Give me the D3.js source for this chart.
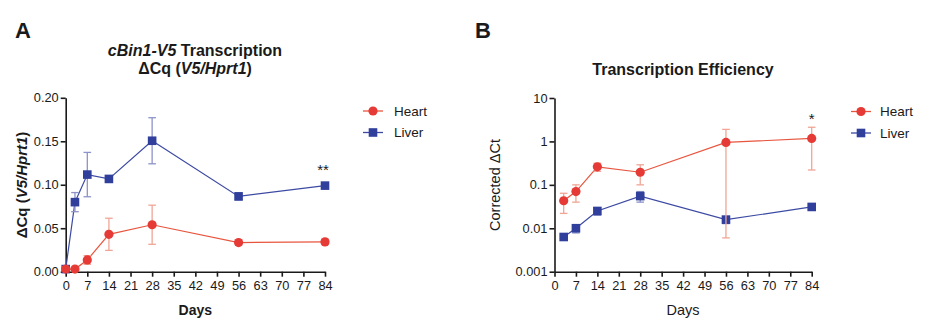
<!DOCTYPE html>
<html>
<head>
<meta charset="utf-8">
<script src="https://cdn.jsdelivr.net/npm/d3@7"></script>
<style>
    body { margin: 0; background: #fff; }
    text { font-family: "Liberation Sans", Arial, sans-serif; fill: #1a1a1a; }
</style>
</head>
<body>
<div id="canvas"></div>
<script>
"use strict";

let svgWidth = 929;
let svgHeight = 329;

/* ---------------- DATA ---------------- */
let daysA = [0, 3, 7, 14, 28, 56, 84];
let heartA = [0.003, 0.003, 0.0135, 0.043, 0.054, 0.0335, 0.0343];
let heartAErr = [0.001, 0.001, 0.005, 0.0185, 0.0225, 0.003, 0.003];
let liverA = [0.003, 0.080, 0.1117, 0.1067, 0.1506, 0.0866, 0.099];
let liverAErr = [0.001, 0.011, 0.0255, 0.003, 0.0265, 0.004, 0.002];

let daysB = [3, 7, 14, 28, 56, 84];
let heartB = [0.043, 0.070, 0.26, 0.195, 0.95, 1.17];
let heartBErr = [0.021, 0.03, 0.055, 0.095, 0.944, 0.95];
let liverB = [0.0063, 0.010, 0.025, 0.055, 0.0158, 0.031];
let liverBErr = [0.0004, 0.0022, 0.005, 0.015, 0.003, 0.002];

let dayTicks = [0, 7, 14, 21, 28, 35, 42, 49, 56, 63, 70, 77, 84];
let yTicksA = [0, 0.05, 0.10, 0.15, 0.20];
let yTicksB = [0.001, 0.01, 0.1, 1, 10];

let seriesNames = ["Heart", "Liver"];

/* ---------------- COLOURS ---------------- */
let heartColor = "#e53a35";
let heartLine = "#e8553f";
let heartErrColor = "#f0a596";
let liverColor = "#303f9c";
let liverLine = "#3c4aa3";
let liverErrColor = "#8d93c8";

let svg = d3.select("#canvas")
    .append("svg")
    .attr("width", svgWidth)
    .attr("height", svgHeight);

/* ---------------- SCALES ---------------- */
let xA = d3.scaleLinear().domain([0, 84]).range([65.7, 325]);
let yA = d3.scaleLinear().domain([0, 0.2]).range([271.7, 97.8]);

let xB = d3.scaleLinear().domain([0, 84]).range([554.5, 811.7]);
let yB = d3.scaleLog().domain([0.001, 10]).range([271.7, 98]);

/* ---------------- AXES ---------------- */
function drawAxes(x, y, yTickValues, yFormat) {
    let gx = svg.append("g")
        .attr("transform", "translate(0," + y.range()[0] + ")")
        .call(d3.axisBottom(x).tickValues(dayTicks).tickSize(5).tickSizeOuter(0).tickPadding(4));

    let gy = svg.append("g")
        .attr("transform", "translate(" + x.range()[0] + ",0)")
        .call(d3.axisLeft(y).tickValues(yTickValues).tickFormat(yFormat).tickSize(5).tickSizeOuter(0).tickPadding(2));

    [gx, gy].forEach(function (g) {
        g.select(".domain").attr("stroke", "#1a1a1a").attr("stroke-width", 1.6);
        g.selectAll(".tick line").attr("stroke", "#1a1a1a").attr("stroke-width", 1.6);
        g.selectAll(".tick text")
            .attr("font-size", "12.8px")
            .attr("font-family", "Liberation Sans, Arial, sans-serif")
            .attr("fill", "#1a1a1a");
    });
}

drawAxes(xA, yA, yTicksA, d3.format(".2f"));
drawAxes(xB, yB, yTicksB, d => String(d));

/* ---------------- SERIES ---------------- */
function drawSeries(x, y, days, values, errs, lineColor, errColor, markColor, shape) {
    let g = svg.append("g");

    let line = d3.line()
        .x((d, i) => x(days[i]))
        .y(d => y(d));

    g.append("path")
        .datum(values)
        .attr("d", line)
        .attr("fill", "none")
        .attr("stroke", lineColor)
        .attr("stroke-width", 1.2);

    let capW = 3.8;
    values.forEach(function (v, i) {
        let cx = x(days[i]);
        let top = y(v + errs[i]);
        let bot = y(Math.max(v - errs[i], y.domain()[0]));
        g.append("line")
            .attr("x1", cx).attr("x2", cx)
            .attr("y1", top).attr("y2", bot)
            .attr("stroke", errColor).attr("stroke-width", 1.3);
        [top, bot].forEach(function (yy) {
            g.append("line")
                .attr("x1", cx - capW).attr("x2", cx + capW)
                .attr("y1", yy).attr("y2", yy)
                .attr("stroke", errColor).attr("stroke-width", 1.3);
        });
    });

    values.forEach(function (v, i) {
        drawMarker(g, x(days[i]), y(v), markColor, shape);
    });
}

function drawMarker(g, cx, cy, color, shape) {
    if (shape === "circle") {
        g.append("circle")
            .attr("cx", cx).attr("cy", cy)
            .attr("r", 4.6)
            .attr("fill", color);
    } else {
        g.append("rect")
            .attr("x", cx - 4.3).attr("y", cy - 4.3)
            .attr("width", 8.6).attr("height", 8.6)
            .attr("fill", color);
    }
}

drawSeries(xA, yA, daysA, liverA, liverAErr, liverLine, liverErrColor, liverColor, "square");
drawSeries(xA, yA, daysA, heartA, heartAErr, heartLine, heartErrColor, heartColor, "circle");

drawSeries(xB, yB, daysB, liverB, liverBErr, liverLine, liverErrColor, liverColor, "square");
drawSeries(xB, yB, daysB, heartB, heartBErr, heartLine, heartErrColor, heartColor, "circle");

/* ---------------- SIGNIFICANCE MARKS ---------------- */
svg.append("text")
    .attr("x", xA(84) - 2)
    .attr("y", yA(liverA[6]) - 11)
    .attr("text-anchor", "middle")
    .attr("font-size", "15px")
    .text("**");

svg.append("text")
    .attr("x", xB(84))
    .attr("y", yB(heartB[5] + heartBErr[5]) - 3)
    .attr("text-anchor", "middle")
    .attr("font-size", "15px")
    .text("*");

/* ---------------- LEGENDS ---------------- */
function drawLegend(x0, y0, textX) {
    let items = [
        { name: seriesNames[0], line: heartLine, color: heartColor, shape: "circle" },
        { name: seriesNames[1], line: liverLine, color: liverColor, shape: "square" }
    ];
    items.forEach(function (d, i) {
        let yy = y0 + i * 21.5;
        svg.append("line")
            .attr("x1", x0 - 10).attr("x2", x0 + 10)
            .attr("y1", yy).attr("y2", yy)
            .attr("stroke", d.line).attr("stroke-width", 1.3);
        drawMarker(svg, x0, yy, d.color, d.shape);
        svg.append("text")
            .attr("x", textX)
            .attr("y", yy + 4.8)
            .attr("font-size", "13.5px")
            .attr("fill", "#333")
            .text(d.name);
    });
}

drawLegend(373, 111, 394);
drawLegend(861, 111.5, 880);

/* ---------------- TITLES ---------------- */
svg.append("text")
    .attr("x", 15).attr("y", 38)
    .attr("font-size", "22px").attr("font-weight", "bold")
    .text("A");

svg.append("text")
    .attr("x", 475).attr("y", 38)
    .attr("font-size", "22px").attr("font-weight", "bold")
    .text("B");

let titleA = svg.append("text")
    .attr("x", 195).attr("y", 55.5)
    .attr("text-anchor", "middle")
    .attr("font-size", "16px").attr("font-weight", "bold");
titleA.append("tspan").attr("font-style", "italic").text("cBin1-V5");
titleA.append("tspan").text(" Transcription");

let titleA2 = svg.append("text")
    .attr("x", 195).attr("y", 74)
    .attr("text-anchor", "middle")
    .attr("font-size", "16px").attr("font-weight", "bold");
titleA2.append("tspan").text("ΔCq (");
titleA2.append("tspan").attr("font-style", "italic").text("V5/Hprt1");
titleA2.append("tspan").text(")");

svg.append("text")
    .attr("x", 683).attr("y", 75)
    .attr("text-anchor", "middle")
    .attr("font-size", "16px").attr("font-weight", "bold")
    .text("Transcription Efficiency");

/* ---------------- AXIS LABELS ---------------- */
svg.append("text")
    .attr("x", xA(42)).attr("y", 315)
    .attr("text-anchor", "middle")
    .attr("font-size", "14px").attr("font-weight", "bold")
    .text("Days");

svg.append("text")
    .attr("x", xB(42)).attr("y", 315)
    .attr("text-anchor", "middle")
    .attr("font-size", "14.5px")
    .text("Days");

let yLabelA = svg.append("text")
    .attr("transform", "translate(27," + 185 + ") rotate(-90)")
    .attr("text-anchor", "middle")
    .attr("font-size", "15px").attr("font-weight", "bold");
yLabelA.append("tspan").text("ΔCq (");
yLabelA.append("tspan").attr("font-style", "italic").text("V5/Hprt1");
yLabelA.append("tspan").text(")");

svg.append("text")
    .attr("transform", "translate(500," + 185 + ") rotate(-90)")
    .attr("text-anchor", "middle")
    .attr("font-size", "14.5px")
    .text("Corrected ΔCt");
</script>
</body>
</html>
